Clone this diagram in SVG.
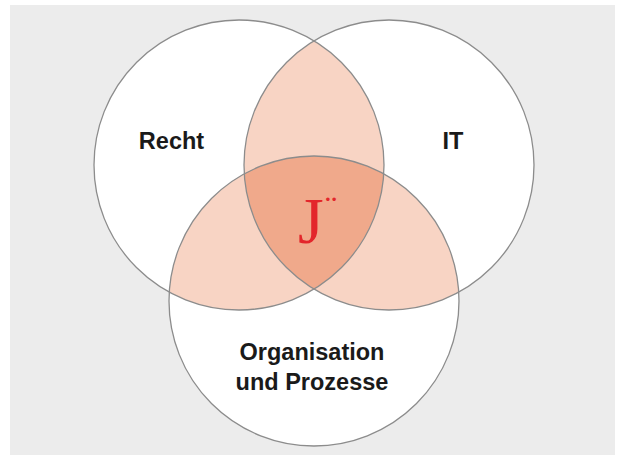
<svg xmlns="http://www.w3.org/2000/svg" width="621" height="460" viewBox="0 0 621 460">
  <style>
    .circle { fill: #ffffff; }
    .outline { fill: none; stroke: #8c8c8c; stroke-width: 1.3; }
    .pair { fill: #f8d4c4; }
    .triple { fill: #f0a98b; }
    .label { font-family: "Liberation Sans", Arial, sans-serif; font-weight: bold; font-size: 23.5px; fill: #1a1a1a; text-anchor: middle; }
    .center { font-family: "Liberation Serif", "Times New Roman", serif; fill: #e3262b; }
  </style>
  <defs>
    <clipPath id="clipL"><circle cx="239" cy="165" r="145"/></clipPath>
    <clipPath id="clipR"><circle cx="389" cy="165" r="145"/></clipPath>
    <clipPath id="clipB"><circle cx="314" cy="301" r="145"/></clipPath>
  </defs>
  <rect x="0" y="0" width="621" height="460" fill="#ffffff"/>
  <rect x="10" y="5" width="605" height="450" fill="#ececec"/>

  <g id="recht">
    <circle class="circle" cx="239" cy="165" r="145"/>
  </g>
  <g id="it">
    <circle class="circle" cx="389" cy="165" r="145"/>
  </g>
  <g id="organisation">
    <circle class="circle" cx="314" cy="301" r="145"/>
  </g>

  <g id="overlaps">
    <circle class="pair" cx="389" cy="165" r="145" clip-path="url(#clipL)"/>
    <circle class="pair" cx="314" cy="301" r="145" clip-path="url(#clipL)"/>
    <circle class="pair" cx="314" cy="301" r="145" clip-path="url(#clipR)"/>
    <g clip-path="url(#clipL)">
      <circle class="triple" cx="314" cy="301" r="145" clip-path="url(#clipR)"/>
    </g>
  </g>

  <g id="outlines">
    <circle class="outline" cx="239" cy="165" r="145"/>
    <circle class="outline" cx="389" cy="165" r="145"/>
    <circle class="outline" cx="314" cy="301" r="145"/>
  </g>

  <g id="labels">
    <text class="label" x="171.5" y="148.5">Recht</text>
    <text class="label" x="453" y="148.5">IT</text>
    <text class="label" x="312" y="359.5">Organisation</text>
    <text class="label" x="312" y="390">und Prozesse</text>
    <text class="center" x="298" y="243" font-size="66">J<tspan font-size="36" x="325" y="220">¨</tspan></text>
  </g>
</svg>
